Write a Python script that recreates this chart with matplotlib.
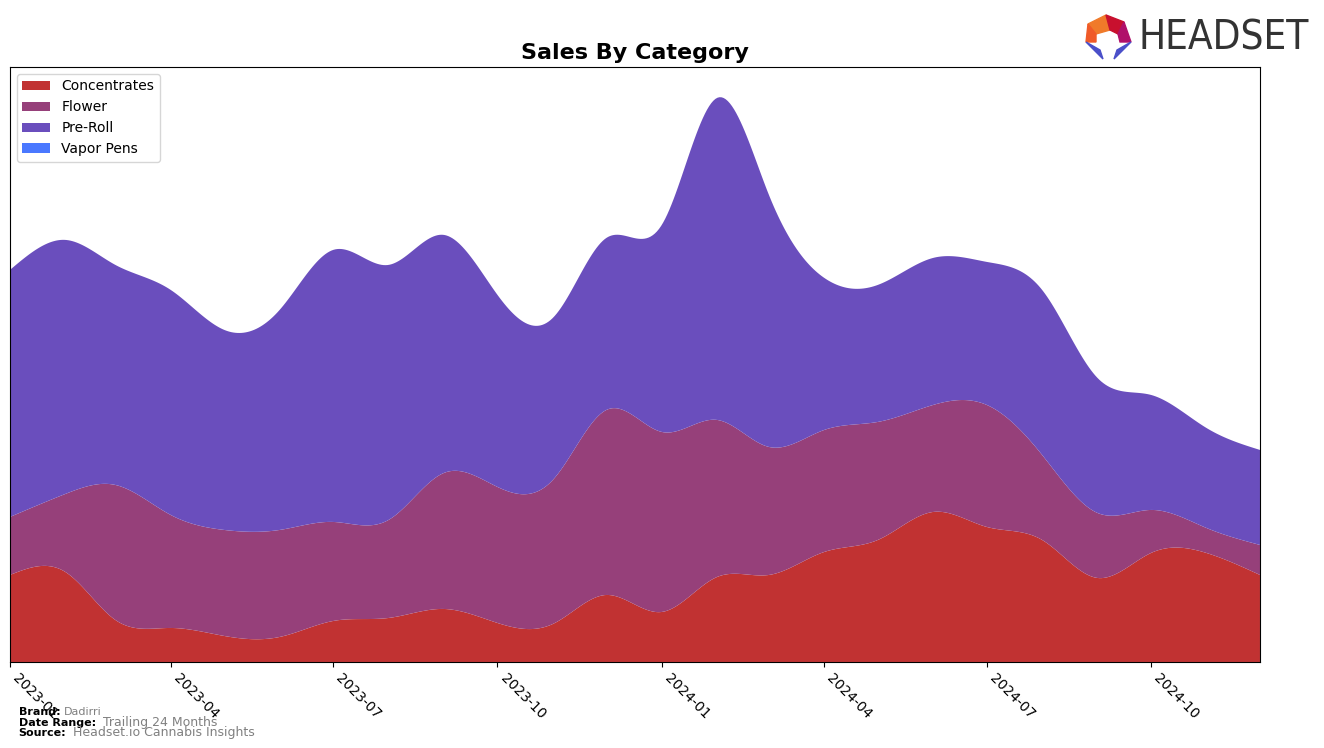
import numpy as np
import pandas as pd
import matplotlib
matplotlib.use("Agg")
import matplotlib.pyplot as plt
from matplotlib.patches import Polygon

# monthly values (arbitrary units)
months = pd.date_range("2023-01-01", "2024-12-01", freq="MS")
concentrates = [87, 90, 42, 34, 26, 25, 41, 44, 53, 39, 38, 67,
                50, 85, 87, 110, 122, 150, 135, 122, 84, 109, 109, 87]
flower = [58, 78, 135, 113, 106, 107, 99, 98, 136, 136, 144, 185,
          180, 157, 128, 122, 118, 107, 122, 85, 65, 43, 25, 30]
pre_roll = [247, 254, 220, 225, 200, 220, 272, 255, 238, 192, 162, 172,
            207, 322, 252, 152, 137, 147, 143, 165, 135, 115, 100, 95]
vapor_pens = [0] * 24

labels = ["Concentrates", "Flower", "Pre-Roll", "Vapor Pens"]
colors = ["#C13232", "#96407A", "#6A4EBD", "#4A78FF"]


def natural_spline(x, y, xs):
    # plain natural cubic spline, only used to smooth the drawn curve
    x = np.asarray(x, float)
    y = np.asarray(y, float)
    n = len(x)
    h = np.diff(x)
    A = np.zeros((n, n))
    b = np.zeros(n)
    A[0, 0] = A[-1, -1] = 1
    for i in range(1, n - 1):
        A[i, i - 1] = h[i - 1]
        A[i, i] = 2 * (h[i - 1] + h[i])
        A[i, i + 1] = h[i]
        b[i] = 6 * ((y[i + 1] - y[i]) / h[i] - (y[i] - y[i - 1]) / h[i - 1])
    m = np.linalg.solve(A, b)
    idx = np.clip(np.searchsorted(x, xs) - 1, 0, n - 2)
    x0, x1 = x[idx], x[idx + 1]
    hh = x1 - x0
    t0, t1 = x1 - xs, xs - x0
    return (m[idx] * t0 ** 3 / (6 * hh) + m[idx + 1] * t1 ** 3 / (6 * hh)
            + (y[idx] / hh - m[idx] * hh / 6) * t0
            + (y[idx + 1] / hh - m[idx + 1] * hh / 6) * t1)


days = (months - months[0]).days.values.astype(float)
fine = np.linspace(days[0], days[-1], 600)
fine_dates = months[0] + pd.to_timedelta(fine, unit="D")

series = [concentrates, flower, pre_roll, vapor_pens]
smooth = [np.clip(natural_spline(days, s, fine), 0, None) for s in series]

fig = plt.figure(figsize=(13.24, 7.48), dpi=100)
ax = fig.add_axes([0.00755, 0.115, 0.9441, 0.7956])
ax.stackplot(fine_dates, *smooth, labels=labels, colors=colors)

ax.set_xlim(months[0], months[-1])
ax.set_ylim(0, 595)
ax.set_yticks([])
ticks = pd.date_range("2023-01-01", "2024-10-01", freq="3MS")
ax.set_xticks(ticks)
ax.set_xticklabels([d.strftime("%Y-%m") for d in ticks], rotation=-45,
                   ha="left", fontsize=10)
ax.set_title("Sales By Category", fontsize=16, fontweight="bold")
ax.legend(loc="upper left", fontsize=10)

# footer
fig.text(0.014, 0.044, "Brand:", fontsize=8, fontweight="bold")
fig.text(0.048, 0.044, "Dadirri", fontsize=8, color="gray")
fig.text(0.014, 0.030, "Date Range:", fontsize=8, fontweight="bold")
fig.text(0.078, 0.030, "Trailing 24 Months", fontsize=9, color="gray")
fig.text(0.014, 0.016, "Source:", fontsize=8, fontweight="bold")
fig.text(0.055, 0.016, "Headset.io Cannabis Insights", fontsize=9, color="gray")

# logo
W, H = 1324, 748


def px(pts):
    return [(x / W, 1 - y / H) for x, y in pts]


logo_parts = [
    ([(1088, 24), (1106, 15), (1110, 30), (1096, 34)], "#F07A2A"),
    ([(1106, 15), (1124, 22), (1118, 34), (1110, 30)], "#C8102E"),
    ([(1124, 22), (1131, 42), (1120, 42), (1118, 34)], "#B0106A"),
    ([(1088, 24), (1096, 34), (1096, 42), (1086, 42)], "#F05A28"),
    ([(1086, 42), (1100, 50), (1103, 59)], "#4A4FC9"),
    ([(1131, 42), (1117, 50), (1114, 59)], "#4A4FC9"),
]
for pts, c in logo_parts:
    fig.add_artist(Polygon(px(pts), closed=True, color=c, transform=fig.transFigure))
fig.text(1139 / W, 1 - 38 / H, "HEADSET", fontsize=29, color="#333333",
         va="center", ha="left", fontstretch="condensed", family="DejaVu Sans")

fig.savefig("out.png", dpi=100)
